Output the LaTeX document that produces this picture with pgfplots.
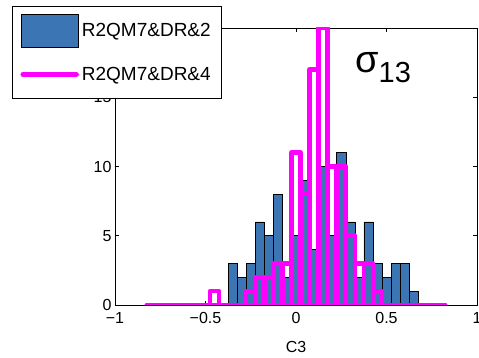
\documentclass[border=0pt]{standalone}
\usepackage{fontspec}
\setmainfont{Liberation Sans}
\usepackage{pgfplots}
\pgfplotsset{compat=1.18}
\definecolor{histblue}{RGB}{59,117,180}
\definecolor{mag}{RGB}{255,0,255}
\begin{document}
\begin{tikzpicture}
\useasboundingbox (-115pt,-53pt) rectangle (364pt,305pt);
\begin{axis}[
 scale only axis, width=362pt, height=277pt,
 xmin=-1, xmax=1, ymin=0, ymax=20,
 xtick={-1,-0.5,0,0.5,1}, xticklabels={−1,−0.5,0,0.5,1},
 ytick={0,5,10,15,20},
 tick align=inside, major tick length=4pt,
 tick style={black, line width=0.6pt},
 axis line style={line width=0.8pt},
 tick label style={font=\fontsize{16}{19}\selectfont},
 xticklabel style={yshift=-4pt},
 /pgf/number format/assume math mode=true,
 xlabel={C3}, xlabel style={font=\fontsize{16}{19}\selectfont, yshift=-11pt},
 legend cell align=left,
 legend style={at={(-0.2845,1.078)}, anchor=north west, draw=black, line width=0.8pt, fill=white,
   inner xsep=8pt, inner ysep=7.5pt, row sep=10pt, nodes={inner sep=3pt},
   font=\fontsize{19}{22}\selectfont},
]
\addplot[ybar, bar width=0.05, bar shift=0pt, fill=histblue, draw=black, line width=0.5pt,
  legend image code/.code={\draw[fill=histblue,draw=black,line width=0.6pt] (0pt,-16.5pt) rectangle (57pt,16.5pt);}]
 coordinates {(-0.35,3) (-0.30,2) (-0.25,3) (-0.20,6) (-0.15,5) (-0.10,8) (-0.05,2) (0,5) (0.05,9) (0.10,4) (0.15,10) (0.20,5) (0.25,11) (0.30,6) (0.35,2) (0.40,6) (0.45,3) (0.50,2) (0.55,3) (0.60,3) (0.65,1)};
\addlegendentry{R2QM7\&DR\&2}
\addplot[ybar, bar width=0.05, bar shift=0pt, fill=none, draw=mag, line width=4.5pt, line join=round,
  legend image code/.code={\path[draw=none, fill=none] (0pt,-16.5pt) rectangle (57pt,16.5pt); \draw[draw=mag, fill=none, line width=5.5pt, line cap=round] (2pt,0pt) -- (55pt,0pt);}]
 coordinates {(-0.80,0) (-0.75,0) (-0.70,0) (-0.65,0) (-0.60,0) (-0.55,0) (-0.50,0) (-0.45,1) (-0.40,0) (-0.35,0) (-0.30,0) (-0.25,1) (-0.20,2) (-0.15,2) (-0.10,3) (-0.05,3) (0,11) (0.05,8) (0.10,17) (0.15,20) (0.20,10) (0.25,10) (0.30,5) (0.35,3) (0.40,3) (0.45,1) (0.50,0) (0.55,0) (0.60,0) (0.65,0) (0.70,0) (0.75,0) (0.80,0)};
\addlegendentry{R2QM7\&DR\&4}
\node[anchor=base west, inner sep=0pt, font=\fontsize{38}{40}\selectfont] at (axis cs:0.326,16.82) {σ\raisebox{-10pt}{\fontsize{29}{32}\selectfont 13}};
\end{axis}
\end{tikzpicture}
\end{document}
